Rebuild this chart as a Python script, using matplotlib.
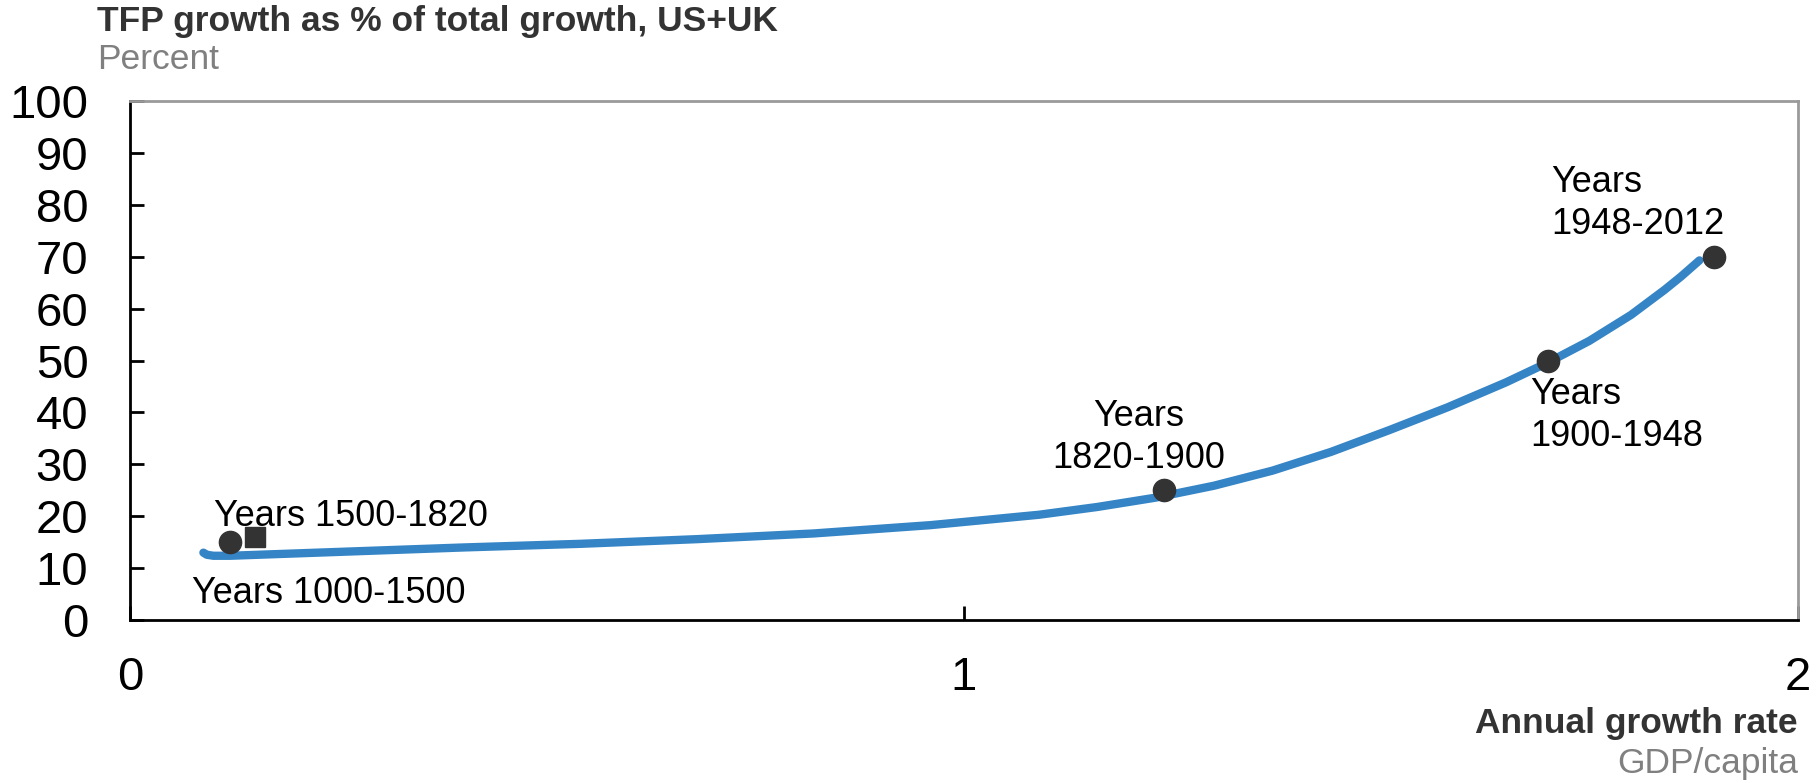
import matplotlib
matplotlib.use("Agg")
import matplotlib.pyplot as plt

plt.rcParams["font.family"] = ["Liberation Sans", "DejaVu Sans"]

# period averages: annual GDP/capita growth vs TFP share of growth
periods = ["Years 1000-1500", "Years 1500-1820", "Years 1820-1900", "Years 1900-1948", "Years 1948-2012"]
growth = [0.12, 0.15, 1.24, 1.70, 1.90]
tfp_share = [15, 16, 25, 50, 70]
markers = ["o", "s", "o", "o", "o"]

# fitted trend line
trend_x = [0.088, 0.092, 0.10, 0.12, 0.26, 0.40, 0.54, 0.68, 0.82, 0.96, 1.09,
           1.16, 1.23, 1.30, 1.37, 1.44, 1.51, 1.58, 1.65, 1.70, 1.75, 1.80, 1.84, 1.86, 1.882]
trend_y = [13.0, 12.6, 12.4, 12.4, 13.2, 14.0, 14.7, 15.6, 16.7, 18.3, 20.3,
           21.8, 23.6, 25.9, 28.8, 32.4, 36.6, 41.0, 45.8, 49.6, 53.8, 58.8, 63.6, 66.2, 69.3]

fig = plt.figure(figsize=(18.16, 7.83), dpi=100)
ax = fig.add_axes([0.0716, 0.208, 0.9184, 0.663])

ax.plot(trend_x, trend_y, color="#3585c6", lw=6, solid_capstyle="round",
        solid_joinstyle="round", zorder=2)
for x, y, m in zip(growth, tfp_share, markers):
    ax.plot(x, y, marker=m, ms=16 if m == "o" else 15, color="#333333", ls="none", zorder=3)

ax.set_xlim(0, 2)
ax.set_ylim(0, 100)
ax.set_xticks([0, 1, 2])
ax.set_yticks(range(0, 101, 10))
ax.tick_params(axis="y", direction="in", length=10, width=2, pad=30, labelsize=34)
ax.tick_params(axis="x", direction="in", length=10, width=2, pad=26, labelsize=34)
for side in ["left", "bottom"]:
    ax.spines[side].set_color("black")
    ax.spines[side].set_linewidth(2)
for side in ["top", "right"]:
    ax.spines[side].set_color("#9a9a9a")
    ax.spines[side].set_linewidth(2)

fs = 26
ax.text(0.101, 20, "Years 1500-1820", fontsize=fs, ha="left", va="center")
ax.text(0.074, 5.1, "Years 1000-1500", fontsize=fs, ha="left", va="center")
ax.text(1.209, 35.2, "Years\n1820-1900", fontsize=fs, ha="center", va="center", linespacing=1.25)
ax.text(1.679, 39.4, "Years\n1900-1948", fontsize=fs, ha="left", va="center", linespacing=1.25)
ax.text(1.704, 80.2, "Years\n1948-2012", fontsize=fs, ha="left", va="center", linespacing=1.25)

fig.text(97 / 1816, 1 - 31 / 783, "TFP growth as % of total growth, US+UK",
         fontsize=25.5, fontweight="bold", color="#333333", ha="left", va="baseline")
fig.text(97 / 1816, 1 - 69 / 783, "Percent", fontsize=25.5, color="#808080", ha="left", va="baseline")
fig.text(1798 / 1816, 1 - 733 / 783, "Annual growth rate",
         fontsize=25.5, fontweight="bold", color="#333333", ha="right", va="baseline")
fig.text(1798 / 1816, 1 - 773 / 783, "GDP/capita", fontsize=25.5, color="#808080", ha="right", va="baseline")

fig.savefig("out.png", dpi=100)
